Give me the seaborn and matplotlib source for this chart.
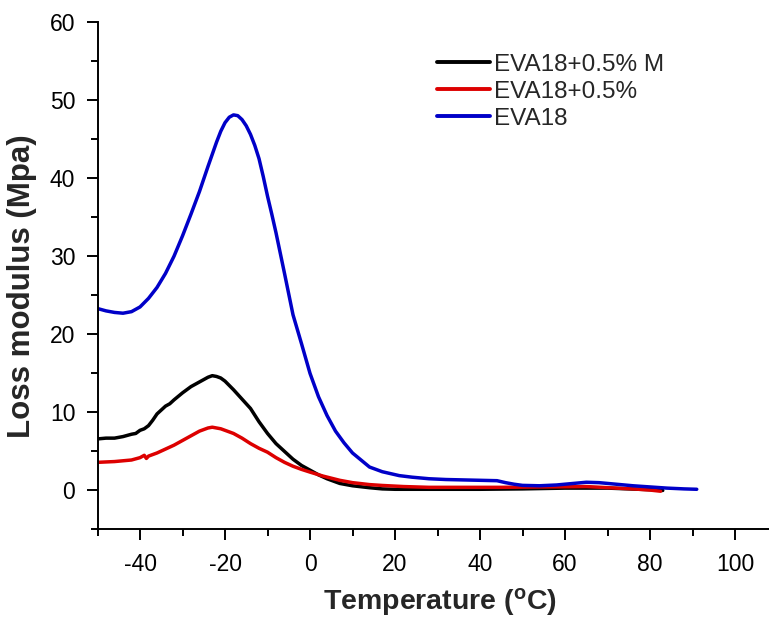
import matplotlib
matplotlib.use("Agg")
import matplotlib.pyplot as plt
from matplotlib.ticker import MultipleLocator
import numpy as np
import pandas as pd
import seaborn as sns

# Loss modulus (MPa) versus temperature (°C) for three EVA18 samples
temp_eva18 = [-50, -48, -46, -44, -42, -40, -38, -36, -34, -32, -30, -28, -26, -24,
              -22, -21, -20, -19, -18, -17, -16, -15, -14, -13, -12, -11, -10, -9,
              -8, -6, -4, -2, 0, 2, 4, 6, 8, 10, 12, 14, 17, 21, 24, 28, 32, 36, 40,
              44, 46, 48, 50, 54, 58, 62, 65, 68, 72, 76, 80, 84, 88, 91]
loss_eva18 = [23.3, 23.0, 22.8, 22.7, 22.9, 23.5, 24.6, 26.0, 27.8, 30.0, 32.6, 35.4,
              38.3, 41.5, 44.6, 46.0, 47.1, 47.8, 48.1, 48.0, 47.5, 46.7, 45.6, 44.2,
              42.5, 40.2, 37.7, 35.4, 33.0, 27.8, 22.5, 18.8, 15.0, 12.0, 9.6, 7.6,
              6.1, 4.8, 3.9, 3.0, 2.4, 1.9, 1.7, 1.5, 1.4, 1.35, 1.3, 1.25, 1.0, 0.8,
              0.65, 0.6, 0.7, 0.9, 1.05, 1.0, 0.8, 0.6, 0.45, 0.3, 0.2, 0.15]

temp_eva18_m = [-50, -48, -46, -44, -42, -41, -40, -39, -38, -37, -36, -35, -34, -33,
                -32, -30, -28, -26, -25, -24, -23, -22, -21, -20, -18, -16, -14, -12,
                -10, -8, -6, -4, -2, 0, 2, 4, 7, 10, 14, 17, 20, 30, 40, 50, 60, 70,
                80, 83]
loss_eva18_m = [6.6, 6.7, 6.7, 6.9, 7.2, 7.3, 7.7, 7.9, 8.3, 9.0, 9.8, 10.3, 10.8,
                11.1, 11.6, 12.5, 13.3, 13.9, 14.2, 14.5, 14.7, 14.6, 14.4, 14.0,
                12.9, 11.7, 10.5, 8.8, 7.3, 6.0, 5.0, 4.0, 3.2, 2.6, 2.0, 1.5, 0.9,
                0.6, 0.35, 0.2, 0.15, 0.15, 0.15, 0.2, 0.3, 0.3, 0.1, 0.0]

temp_eva18_05 = [-50, -46, -42, -40, -39, -38.5, -38, -36, -34, -32, -30, -28, -26,
                 -25, -24, -23, -22, -21, -20, -18, -16, -14, -12, -10, -8, -6, -4,
                 -2, 0, 3, 7, 10, 14, 17, 22, 28, 35, 45, 55, 65, 72, 76, 80, 82.5]
loss_eva18_05 = [3.6, 3.7, 3.9, 4.2, 4.5, 4.1, 4.4, 4.8, 5.3, 5.8, 6.4, 7.0, 7.6, 7.8,
                 8.0, 8.1, 8.0, 7.9, 7.7, 7.3, 6.7, 6.0, 5.4, 4.9, 4.2, 3.6, 3.1, 2.7,
                 2.35, 1.85, 1.3, 1.0, 0.75, 0.64, 0.5, 0.4, 0.4, 0.4, 0.45, 0.5, 0.3,
                 0.2, 0.05, -0.1]

series_names = ["EVA18+0.5% M", "EVA18+0.5%", "EVA18"]
series_colors = ["#000000", "#dd0000", "#0000c8"]

frames = [
    pd.DataFrame({"T": temp_eva18_m, "E": loss_eva18_m, "sample": series_names[0]}),
    pd.DataFrame({"T": temp_eva18_05, "E": loss_eva18_05, "sample": series_names[1]}),
    pd.DataFrame({"T": temp_eva18, "E": loss_eva18, "sample": series_names[2]}),
]
df = pd.concat(frames, ignore_index=True)

sns.set_style("ticks")
plt.rcParams["font.family"] = ["Liberation Sans", "DejaVu Sans"]
plt.rcParams["axes.unicode_minus"] = False

fig = plt.figure(figsize=(7.69, 6.19), dpi=100)
ax = fig.add_axes([0.1268, 0.1446, 0.8732, 0.8199])

sns.lineplot(data=df, x="T", y="E", hue="sample", hue_order=series_names,
             palette=series_colors, sort=False, estimator=None,
             linewidth=2.5, ax=ax)

ax.set_xlim(-50, 108)
ax.set_ylim(-5, 60)
ax.xaxis.set_minor_locator(MultipleLocator(10))
ax.yaxis.set_minor_locator(MultipleLocator(5))
ax.set_xticks([-40, -20, 0, 20, 40, 60, 80, 100])
ax.set_yticks([0, 10, 20, 30, 40, 50, 60])

sns.despine(ax=ax)
for side in ("left", "bottom"):
    ax.spines[side].set_linewidth(1.4)
    ax.spines[side].set_color("black")

ax.tick_params(axis="both", which="major", direction="out", length=8, width=1.4,
               labelsize=16.5, pad=8, colors="black")
ax.tick_params(axis="both", which="minor", direction="out", length=5, width=1.4,
               colors="black")
ax.tick_params(axis="x", which="major", pad=9)

ax.set_xlabel("Temperature ($\\mathregular{^{o}}$C)", fontsize=20.5, fontweight="bold")
ax.set_ylabel("Loss modulus (Mpa)", fontsize=22.5, fontweight="bold")
ax.xaxis.set_label_coords(0.51, -0.111)
ax.yaxis.set_label_coords(-0.09, 0.48)

leg = ax.legend(loc="upper left", bbox_to_anchor=(0.505, 0.937), frameon=False,
                fontsize=17.5, handlelength=2.2, handletextpad=0.15,
                labelspacing=0.2, borderpad=0, borderaxespad=0)
for line in leg.get_lines():
    line.set_linewidth(2.8)

fig.savefig("out.png", dpi=100)
